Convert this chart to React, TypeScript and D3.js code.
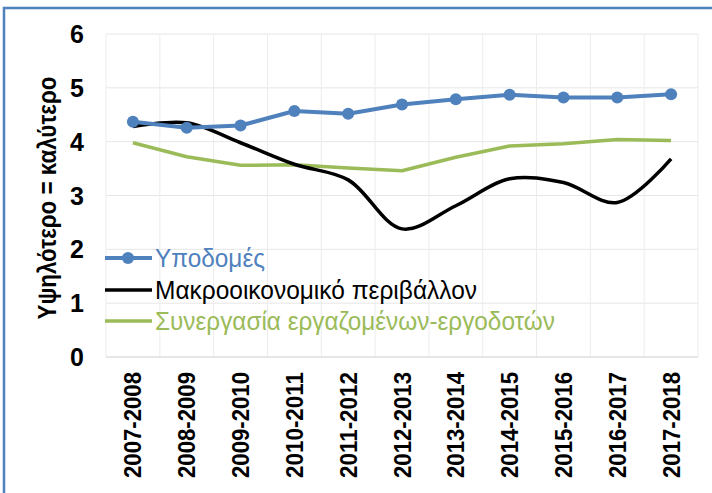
import React from "react";
import * as d3 from "d3";

const categories = ["2007-2008","2008-2009","2009-2010","2010-2011","2011-2012","2012-2013","2013-2014","2014-2015","2015-2016","2016-2017","2017-2018"];
const infrastructure = [4.37, 4.26, 4.30, 4.57, 4.52, 4.69, 4.79, 4.87, 4.82, 4.82, 4.88];
const macro = [4.28, 4.35, 3.98, 3.58, 3.29, 2.38, 2.81, 3.31, 3.24, 2.87, 3.68];
const cooperation = [3.98, 3.72, 3.56, 3.57, 3.51, 3.46, 3.71, 3.92, 3.96, 4.04, 4.02];
const yTicks = [0, 1, 2, 3, 4, 5, 6];
const seriesNames = ["Υποδομές", "Μακροοικονομικό περιβάλλον", "Συνεργασία εργαζομένων-εργοδοτών"];
const yTitle = "Υψηλότερο = καλύτερο";

const BLUE = "#4F81BD";
const GREEN = "#9BBB59";
const FONT = "'Liberation Sans', Arial, sans-serif";
const NARROW = "'Liberation Sans Narrow', 'Liberation Sans', Arial, sans-serif";

export default function App() {
  const W = 712, H = 493;
  const x = d3.scaleBand<string>().domain(categories).range([106, 698]);
  const y = d3.scaleLinear().domain([0, 6]).range([357, 34]);
  const cx = (c: string) => (x(c) as number) + x.bandwidth() / 2;

  const straight = d3.line<number>().x((_, i) => cx(categories[i])).y(d => y(d));
  const smooth = d3.line<number>().x((_, i) => cx(categories[i])).y(d => y(d)).curve(d3.curveCatmullRom.alpha(0.5));

  const legend = [
    { name: seriesNames[0], color: BLUE, textColor: BLUE, marker: true, y: 258, len: 110 },
    { name: seriesNames[1], color: "#000", textColor: "#000", marker: false, y: 290, len: 322 },
    { name: seriesNames[2], color: GREEN, textColor: GREEN, marker: false, y: 321, len: 400 },
  ];

  return (
    <svg width={W} height={H} style={{ position: "absolute", left: 0, top: 0, background: "#fff" }}>
      <rect x={4} y={8} width={W + 10} height={H + 10} fill="#fff" stroke={BLUE} strokeWidth={2.5} />
      {/* grid */}
      {yTicks.map(t => (
        <line key={"h" + t} x1={106} x2={698} y1={y(t)} y2={y(t)} stroke="#e6e6e6" strokeWidth={1} />
      ))}
      {categories.map(c => (
        <line key={"v" + c} x1={x(c) as number} x2={x(c) as number} y1={y(6)} y2={y(0)} stroke="#ececec" strokeWidth={1} />
      ))}
      <line x1={698} x2={698} y1={y(6)} y2={y(0)} stroke="#ececec" strokeWidth={1} />
      <line x1={106} x2={698} y1={y(0)} y2={y(0)} stroke="#d9d9d9" strokeWidth={1} />
      {/* y tick labels */}
      {yTicks.map(t => (
        <text key={"yt" + t} x={77} y={y(t)} dy="0.36em" textAnchor="middle" fontFamily={NARROW} fontWeight="bold" fontSize={25} fill="#000">
          {t}
        </text>
      ))}
      {/* x tick labels */}
      {categories.map(c => (
        <text key={"xt" + c} transform={`translate(${cx(c) + 8.5},372) rotate(-90)`} textAnchor="end" fontFamily={FONT} fontWeight="bold" fontSize={23.5} fill="#000" textLength={106} lengthAdjust="spacingAndGlyphs">
          {c}
        </text>
      ))}
      {/* y title */}
      <text transform={`translate(56,198) rotate(-90)`} textAnchor="middle" fontFamily={NARROW} fontWeight="bold" fontSize={25} fill="#000" textLength={243} lengthAdjust="spacingAndGlyphs">
        {yTitle}
      </text>
      {/* series */}
      <path d={straight(cooperation) || ""} fill="none" stroke={GREEN} strokeWidth={3.5} strokeLinejoin="round" />
      <path d={smooth(macro) || ""} fill="none" stroke="#000" strokeWidth={3.5} strokeLinejoin="round" />
      <path d={straight(infrastructure) || ""} fill="none" stroke={BLUE} strokeWidth={4} strokeLinejoin="round" />
      {infrastructure.map((v, i) => (
        <circle key={"m" + i} cx={cx(categories[i])} cy={y(v)} r={6} fill={BLUE} />
      ))}
      {/* legend */}
      {legend.map(l => (
        <g key={l.name}>
          <line x1={105} x2={152} y1={l.y} y2={l.y} stroke={l.color} strokeWidth={l.marker ? 4 : 3.5} />
          {l.marker && <circle cx={128} cy={l.y} r={6} fill={l.color} />}
          <text x={155} y={l.y} dy="0.36em" fontFamily={NARROW} fontSize={26} fill={l.textColor} textLength={l.len} lengthAdjust="spacingAndGlyphs">
            {l.name}
          </text>
        </g>
      ))}
    </svg>
  );
}
